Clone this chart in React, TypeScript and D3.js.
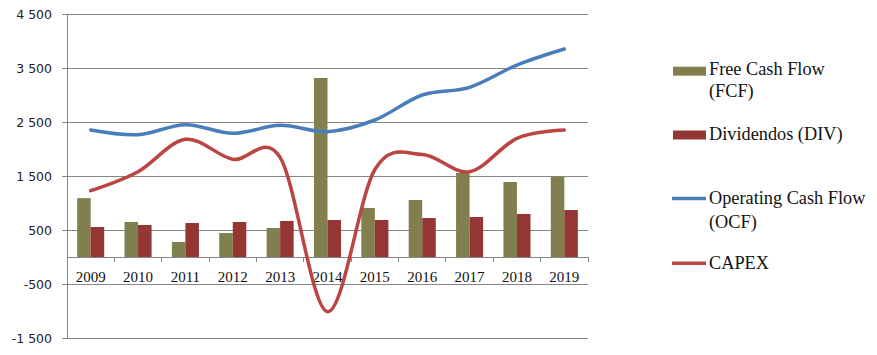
import React from "react";
import * as d3 from "d3";

const years = ["2009","2010","2011","2012","2013","2014","2015","2016","2017","2018","2019"];
const fcf = [1090, 648, 278, 444, 537, 3315, 907, 1056, 1556, 1389, 1488];
const div = [556, 593, 630, 648, 667, 685, 685, 722, 741, 796, 870];
const ocf = [2352, 2265, 2450, 2290, 2438, 2321, 2537, 3000, 3142, 3555, 3852];
const capex = [1228, 1580, 2180, 1810, 1845, -1013, 1620, 1900, 1580, 2198, 2352];
const yTicks = [-1500, -500, 500, 1500, 2500, 3500, 4500];

const COL_FCF = "#80804F";
const COL_DIV = "#943634";
const COL_OCF = "#4A7EBB";
const COL_CAPEX = "#BA4542";
const GRID = "#868686";

function fmt(v: number) {
  const s = Math.abs(v).toString();
  const withSpace = s.length > 3 ? s.slice(0, s.length - 3) + " " + s.slice(-3) : s;
  return (v < 0 ? "-" : "") + withSpace;
}

export default function App() {
  const W = 877, H = 355;
  const left = 67, right = 588, top = 14, bottom = 338;
  const y = d3.scaleLinear().domain([-1500, 4500]).range([bottom, top]);
  const x = d3.scaleBand<string>().domain(years).range([left, right]).padding(0);
  const slot = x.bandwidth();
  const barW = slot / 3.5;
  const inner = d3.scaleBand<string>().domain(["fcf", "div"]).range([-barW, barW]).padding(0);
  const cx = (i: number) => (x(years[i]) as number) + slot / 2;
  const line = d3.line<number>().x((_, i) => cx(i)).y((d) => y(d)).curve(d3.curveCardinal.tension(0));
  const y0 = y(0);
  const boundaries = d3.range(years.length + 1).map((i) => left + i * slot);

  return (
    <svg width={W} height={H} style={{ position: "absolute", left: 0, top: 0, background: "#fff" }}>
      {yTicks.map((t) => (
        <g key={t}>
          <line x1={left} x2={right} y1={y(t)} y2={y(t)} stroke={GRID} strokeWidth={1} shapeRendering="crispEdges" />
          <line x1={left - 5} x2={left} y1={y(t)} y2={y(t)} stroke={GRID} strokeWidth={1} shapeRendering="crispEdges" />
          <text x={52} y={y(t) + 4.6} textAnchor="end" fontFamily="DejaVu Sans" fontSize={12.5} fill="#222">{fmt(t)}</text>
        </g>
      ))}
      <line x1={left} x2={left} y1={top} y2={bottom} stroke={GRID} strokeWidth={1} shapeRendering="crispEdges" />
      {years.map((yr, i) => (
        <g key={yr}>
          <rect x={cx(i) + (inner("fcf") as number)} y={Math.min(y(fcf[i]), y0)} width={barW} height={Math.abs(y0 - y(fcf[i]))} fill={COL_FCF} />
          <rect x={cx(i) + (inner("div") as number)} y={Math.min(y(div[i]), y0)} width={barW} height={Math.abs(y0 - y(div[i]))} fill={COL_DIV} />
        </g>
      ))}
      <line x1={left} x2={right} y1={y0} y2={y0} stroke={GRID} strokeWidth={1} shapeRendering="crispEdges" />
      {boundaries.map((bx, i) => (
        <line key={i} x1={bx} x2={bx} y1={y0} y2={y0 + 5} stroke={GRID} strokeWidth={1} shapeRendering="crispEdges" />
      ))}
      {years.map((yr, i) => (
        <text key={yr} x={cx(i)} y={282} textAnchor="middle" fontFamily="Liberation Serif" fontSize={15} fill="#111">{yr}</text>
      ))}
      <path d={line(ocf) || ""} fill="none" stroke={COL_OCF} strokeWidth={3.5} strokeLinecap="round" />
      <path d={line(capex) || ""} fill="none" stroke={COL_CAPEX} strokeWidth={3.5} strokeLinecap="round" />

      <g fontFamily="Liberation Serif" fontSize={18.3} fill="#111">
        <rect x={673} y={66.7} width={33} height={9} fill={COL_FCF} />
        <text x={709} y={75}>Free Cash Flow</text>
        <text x={709} y={97}>(FCF)</text>
        <rect x={673} y={130.5} width={33} height={9} fill={COL_DIV} />
        <text x={709} y={139.5}>Dividendos (DIV)</text>
        <line x1={672} x2={706} y1={198.5} y2={198.5} stroke={COL_OCF} strokeWidth={3.5} />
        <text x={709} y={203.5}>Operating Cash Flow</text>
        <text x={709} y={227.5}>(OCF)</text>
        <line x1={672} x2={706} y1={263.3} y2={263.3} stroke={COL_CAPEX} strokeWidth={3.5} />
        <text x={709} y={268.5}>CAPEX</text>
      </g>
    </svg>
  );
}
